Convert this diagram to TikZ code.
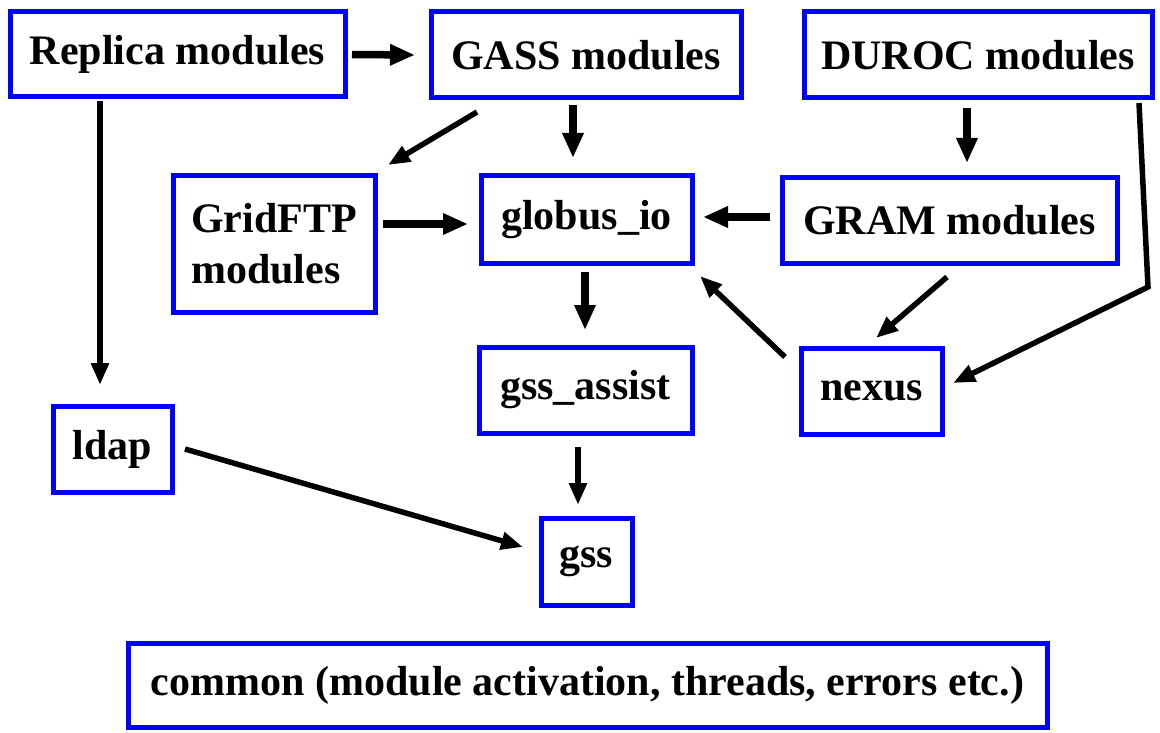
\documentclass[tikz,border=0pt]{standalone}
\usepackage{fontspec}
\newfontfamily\boxfont{LiberationSerif}[Extension=.ttf, UprightFont=*-Regular, BoldFont=*-Bold]
\usetikzlibrary{arrows.meta}
\tikzset{
  box/.style={draw=blue, line width=5pt, inner sep=0pt, outer sep=0pt, font=\boxfont\fontsize{42}{51}\selectfont\bfseries, align=center},
  arr/.style={line width=5.5pt, -{Triangle[length=22pt,width=17pt]}},
  thickarr/.style={line width=7.5pt, -{Triangle[length=25pt,width=20pt]}}
}
\begin{document}
\begin{tikzpicture}[x=1pt, y=-1pt]
\useasboundingbox (0,0) rectangle (1160,733);

\node[box, minimum width=335pt, minimum height=85pt] (replica) at (177.5,54.5) {Replica modules};
\node[box, minimum width=310pt, minimum height=86pt] (gass) at (586,55) {GASS modules};
\node[box, minimum width=348pt, minimum height=86pt] (duroc) at (978,55) {DUROC modules};
\node[box, minimum width=202pt, minimum height=136pt, align=left] (gridftp) at (274,244) {GridFTP\\modules};
\node[box, minimum width=211pt, minimum height=87pt] (globusio) at (586.5,219.5) {globus\_io};
\node[box, minimum width=335pt, minimum height=85pt] (gram) at (949.5,220.5) {GRAM modules};
\node[box, minimum width=213pt, minimum height=86pt] (gssassist) at (585.5,390) {gss\_assist};
\node[box, minimum width=141pt, minimum height=86pt] (nexus) at (871.5,391) {nexus};
\node[box, minimum width=119pt, minimum height=86pt] (ldap) at (112.5,449) {ldap};
\node[box, minimum width=91pt, minimum height=87pt] (gss) at (586.5,561.5) {gss};
\node[box, minimum width=919pt, minimum height=84pt] (common) at (587.5,685) {common (module activation, threads, errors etc.)};

\coordinate (bend) at (1148,287);

\draw[thickarr] ([xshift=7pt]replica.east) -- ([xshift=-16pt]gass.west);
\draw[arr] ([xshift=-77.5pt,yshift=-4pt]replica.south) -- ([xshift=-12.5pt,yshift=21pt]ldap.north);
\draw[arr] ([xshift=-109pt,yshift=-14pt]gass.south) -- ([xshift=13pt,yshift=11pt]gridftp.north east);
\draw[thickarr] ([xshift=-13pt,yshift=-7pt]gass.south) -- ([xshift=-13.5pt,yshift=18pt]globusio.north);
\draw[thickarr] ([xshift=8pt,yshift=20pt]gridftp.east) -- ([xshift=-13pt,yshift=-4.5pt]globusio.west);
\draw[thickarr] ([xshift=-12pt,yshift=3.5pt]gram.west) -- ([xshift=11pt,yshift=2.5pt]globusio.east);
\draw[thickarr] ([xshift=-11pt,yshift=-10pt]duroc.south) -- ([xshift=17.5pt,yshift=15pt]gram.north);
\draw[arr] ([xshift=-13pt,yshift=-5pt]duroc.south east) -- (bend) -- ([xshift=11pt,yshift=8pt]nexus.east);
\draw[arr] ([xshift=-2.5pt,yshift=-14pt]gram.south) -- ([xshift=4.5pt,yshift=10pt]nexus.north);
\draw[arr] ([xshift=-16pt,yshift=-9pt]nexus.north west) -- ([xshift=8pt,yshift=-13pt]globusio.south east);
\draw[thickarr] ([xshift=-1.5pt,yshift=-9pt]globusio.south) -- ([xshift=-0.5pt,yshift=17pt]gssassist.north);
\draw[arr] ([xshift=-7.5pt,yshift=-14pt]gssassist.south) -- ([xshift=-8.5pt,yshift=13pt]gss.north);
\draw[arr] ([xshift=13pt]ldap.east) -- ([xshift=-18pt,yshift=14.5pt]gss.west);
\end{tikzpicture}
\end{document}
